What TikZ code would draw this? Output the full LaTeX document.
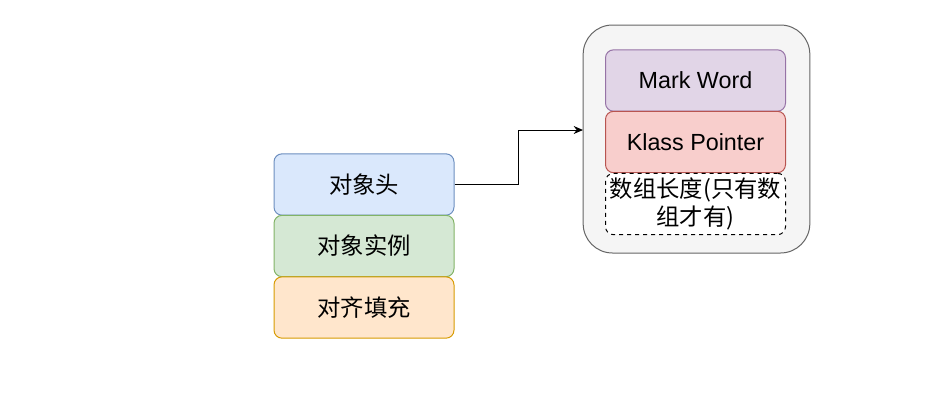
\documentclass[tikz,border=0pt]{standalone}
\usepackage{fontspec}
\setmainfont{Liberation Sans}
\newfontfamily\cjk{Noto Sans CJK SC}
\usetikzlibrary{arrows.meta}
\definecolor{bluefill}{HTML}{DAE8FC}\definecolor{bluedraw}{HTML}{6C8EBF}
\definecolor{greenfill}{HTML}{D5E8D4}\definecolor{greendraw}{HTML}{82B366}
\definecolor{orangefill}{HTML}{FFE6CC}\definecolor{orangedraw}{HTML}{D79B00}
\definecolor{purplefill}{HTML}{E1D5E7}\definecolor{purpledraw}{HTML}{9673A6}
\definecolor{redfill}{HTML}{F8CECC}\definecolor{reddraw}{HTML}{B85450}
\definecolor{greyfill}{HTML}{F5F5F5}\definecolor{greydraw}{HTML}{666666}
\begin{document}
\begin{tikzpicture}[x=0.75pt,y=-0.75pt,
  box/.style={rectangle,rounded corners=6pt,minimum width=135pt,minimum height=46pt,inner sep=0pt,line width=0.75pt,font=\fontsize{17.5}{21}\selectfont,align=center},
  cjkbox/.style={box,font=\cjk\fontsize{17.5}{21}\selectfont}]
\useasboundingbox (0,0) rectangle (940,401);
\node[draw=greydraw,fill=greyfill,rounded corners=22pt,line width=0.75pt,minimum width=170pt,minimum height=171pt,inner sep=0pt] (cont) at (696.5,139) {};
\node[cjkbox,draw=bluedraw,fill=bluefill] (head) at (364,184.5) {对象头};
\node[cjkbox,draw=greendraw,fill=greenfill] (inst) at (364,246) {对象实例};
\node[cjkbox,draw=orangedraw,fill=orangefill] (pad) at (364,307.5) {对齐填充};
\node[box,draw=purpledraw,fill=purpledraw!0!purplefill,fill=purplefill] (mark) at (695.5,80.5) {Mark Word};
\node[box,draw=reddraw,fill=redfill] (klass) at (695.5,142) {Klass Pointer};
\node[cjkbox,draw=black,fill=white,dashed,font=\cjk\fontsize{17.5}{21}\selectfont] (arr) at (695.5,204) {数组长度(只有数\\组才有)};
\coordinate (tip) at (583,130);
\draw[line width=0.75pt,-{Stealth[length=7pt,width=6pt]}] (head.east) -- (518,184.5) |- (tip);
\end{tikzpicture}
\end{document}
